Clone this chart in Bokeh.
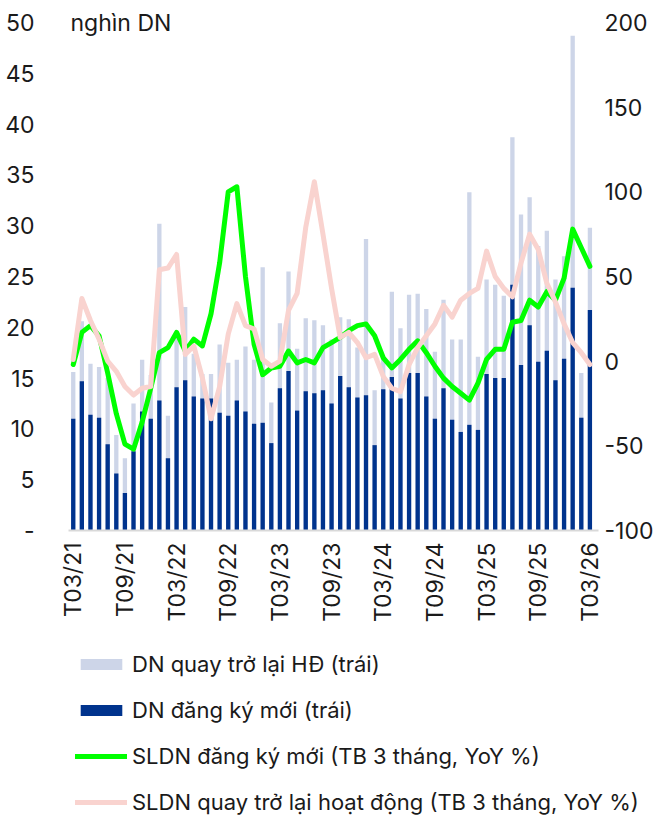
import math
from bokeh.plotting import figure
from bokeh.models import (Range1d, FixedTicker, Legend, LegendItem,
                          Label, ColumnDataSource)
from bokeh.core.properties import value
from bokeh.embed import file_html
from bokeh.resources import INLINE

months = ["T03/21", "T04/21", "T05/21", "T06/21", "T07/21", "T08/21", "T09/21", "T10/21", "T11/21", "T12/21",
          "T01/22", "T02/22", "T03/22", "T04/22", "T05/22", "T06/22", "T07/22", "T08/22", "T09/22", "T10/22",
          "T11/22", "T12/22", "T01/23", "T02/23", "T03/23", "T04/23", "T05/23", "T06/23", "T07/23", "T08/23",
          "T09/23", "T10/23", "T11/23", "T12/23", "T01/24", "T02/24", "T03/24", "T04/24", "T05/24", "T06/24",
          "T07/24", "T08/24", "T09/24", "T10/24", "T11/24", "T12/24", "T01/25", "T02/25", "T03/25", "T04/25",
          "T05/25", "T06/25", "T07/25", "T08/25", "T09/25", "T10/25", "T11/25", "T12/25", "T01/26", "T02/26",
          "T03/26"]

tick_months = ["T03/21", "T09/21", "T03/22", "T09/22", "T03/23", "T09/23",
               "T03/24", "T09/24", "T03/25", "T09/25", "T03/26"]

# nghìn DN
dn_dang_ky_moi = [11.0, 14.7, 11.4, 11.1, 8.5, 5.6, 3.7, 7.8, 11.7, 11.0,
                  12.8, 7.1, 14.1, 14.8, 13.2, 13.0, 13.0, 11.6, 11.3, 12.8,
                  11.7, 10.5, 10.6, 8.6, 14.0, 15.7, 11.8, 13.7, 13.5, 13.8,
                  12.5, 15.2, 14.1, 13.1, 13.3, 8.4, 13.9, 15.1, 13.0, 15.5,
                  15.5, 13.2, 11.0, 14.0, 10.9, 9.7, 10.4, 9.9, 15.4, 15.0,
                  15.0, 24.2, 16.3, 20.2, 16.6, 17.7, 14.8, 16.9, 23.9, 11.1,
                  21.7]

dn_quay_tro_lai = [15.6, 20.6, 16.4, 16.1, 15.0, 9.4, 7.1, 12.5, 16.8, 15.3,
                   30.2, 11.3, 19.0, 22.0, 17.4, 15.4, 15.4, 18.3, 16.5, 16.8,
                   18.1, 16.8, 25.9, 12.6, 20.4, 25.5, 17.9, 20.9, 20.7, 20.2,
                   18.8, 21.0, 20.8, 18.0, 28.7, 13.8, 17.0, 23.5, 19.9, 23.2,
                   23.3, 21.8, 17.6, 22.7, 18.8, 18.8, 33.3, 17.1, 24.7, 24.2,
                   23.1, 38.7, 31.1, 32.8, 28.0, 29.5, 24.7, 27.0, 48.7, 15.5,
                   29.8]

# YoY %, TB 3 tháng
yoy_dang_ky_moi = [-2, 17, 21, 15, -7, -31, -49, -52, -36, -16,
                   5, 8, 17, 6, 13, 9, 28, 58, 100, 103,
                   50, 10, -8, -4, -3, 6, -1, 1, -1, 8,
                   11, 14, 18, 21, 22, 15, 2, -4, 1, 7,
                   12, 5, -3, -10, -15, -19, -23, -13, 1, 7,
                   7, 23, 24, 36, 32, 41, 36, 49, 78, 67,
                   56]

yoy_quay_tro_lai = [1, 37, 24, 13, 0, -6, -15, -20, -16, -15,
                    54, 55, 63, 4, 9, -10, -34, -15, 16, 34,
                    21, 19, 1, -3, 0, 30, 40, 79, 106, 75,
                    43, 14, 17, 11, 2, 4, -9, -16, -18, -2,
                    8, 15, 22, 33, 26, 36, 40, 43, 65, 50,
                    43, 38, 58, 75, 66, 46, 35, 22, 11, 5,
                    -2]

left_ticks = [0, 5, 10, 15, 20, 25, 30, 35, 40, 45, 50]
right_ticks = [-100, -50, 0, 50, 100, 150, 200]
right_labels = ["-100", "-50", "0", "50", "100", "150", "200"]

FONT = "Inter"
TXT = "#1a1a1a"
C_LIGHT = "#cdd5e8"
C_DARK = "#00338d"
C_GREEN = "#00ff00"
C_PINK = "#f9d3cf"

# plot area in data units: bars sit on 0..60, the category axis runs -0.55..61
X_AXIS_START = -0.55
X_AXIS_END = 61.0
X_RANGE = (-2.06, 67.85)      # extra room left for the first month label, right for the % scale
Y_TOP = 51.38
Y_BOT = -28.35                # room under zero for month labels and legend
PCT = lambda v: -100 + v * 6  # left unit -> right (%) unit, 0..50 <-> -100..200

idx = list(range(len(months)))
src = ColumnDataSource(dict(x=idx, moi=dn_dang_ky_moi, lai=dn_quay_tro_lai,
                            gm=yoy_dang_ky_moi, gl=yoy_quay_tro_lai))
tick_src = ColumnDataSource(dict(x=[months.index(m) for m in tick_months],
                                 y=[0] * len(tick_months), t=tick_months))
right_src = ColumnDataSource(dict(x=[X_AXIS_END] * len(right_ticks), y=right_ticks, t=right_labels))

p = figure(width=657, height=818, output_backend="svg", toolbar_location=None,
           x_range=Range1d(*X_RANGE), y_range=Range1d(Y_BOT, Y_TOP),
           x_axis_location=None,
           min_border_left=55, min_border_top=8, min_border_right=0,
           min_border_bottom=0, outline_line_color=None)
p.extra_y_ranges = {"pct": Range1d(PCT(Y_BOT), PCT(Y_TOP))}
p.xgrid.grid_line_color = None
p.ygrid.grid_line_color = None

r_lai = p.vbar(x="x", top="lai", bottom=0, width=0.5, fill_color=C_LIGHT, line_color=None, source=src)
r_moi = p.vbar(x="x", top="moi", bottom=0, width=0.5, fill_color=C_DARK, line_color=None, source=src)
p.segment(x0=[X_AXIS_START], y0=[0], x1=[X_AXIS_END], y1=[0], line_color="#d9d9d9", line_width=2)
r_gm = p.line(x="x", y="gm", y_range_name="pct", line_color=C_GREEN, line_width=5,
              line_join="round", line_cap="round", source=src)
r_gl = p.line(x="x", y="gl", y_range_name="pct", line_color=C_PINK, line_width=5,
              line_join="round", line_cap="round", source=src)

# month labels under the zero line, rotated to read upwards
p.text(x="x", y="y", text="t", source=tick_src, angle=math.pi / 2, text_align="right",
       text_baseline="middle", y_offset=12, text_font=value(FONT),
       text_font_size=value("23px"), text_color=TXT)

# right (%) scale labels
p.text(x="x", y="y", text="t", source=right_src, y_range_name="pct", text_align="left",
       text_baseline="middle", x_offset=6, text_font=value(FONT),
       text_font_size=value("23px"), text_color=TXT)

# left axis
ya = p.yaxis[0]
ya.ticker = FixedTicker(ticks=left_ticks)
ya.major_label_overrides = {0: "-"}
ya.axis_line_color = None
ya.major_tick_line_color = None
ya.minor_tick_line_color = None
ya.major_label_standoff = 15
ya.major_label_text_font = FONT
ya.major_label_text_font_size = "23px"
ya.major_label_text_color = TXT

p.add_layout(Label(x=X_AXIS_START, y=50, text="nghìn DN", x_offset=2, text_baseline="middle",
                   text_align="left", text_font=FONT, text_font_size="23px", text_color=TXT))

legend = Legend(items=[
    LegendItem(label="DN quay trở lại HĐ (trái)", renderers=[r_lai]),
    LegendItem(label="DN đăng ký mới (trái)", renderers=[r_moi]),
    LegendItem(label="SLDN đăng ký mới (TB 3 tháng, YoY %)", renderers=[r_gm]),
    LegendItem(label="SLDN quay trở lại hoạt động (TB 3 tháng, YoY %)", renderers=[r_gl]),
], orientation="vertical", location=(20, 3), label_text_font=FONT,
   label_text_font_size="22px", label_text_color=TXT, glyph_width=52, glyph_height=14,
   label_height=26, spacing=20, padding=0, margin=0, label_standoff=5,
   border_line_color=None, background_fill_alpha=0)
p.add_layout(legend, "center")

open("out.html", "w").write(file_html(p, INLINE))
